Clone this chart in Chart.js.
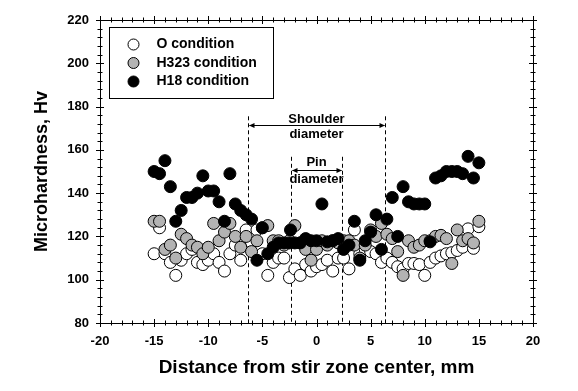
<!DOCTYPE html>
<html><head><meta charset="utf-8">
<script src="https://cdn.jsdelivr.net/npm/chart.js@4.4.1/dist/chart.umd.min.js"></script>
<style>html,body{margin:0;padding:0;background:#fff}canvas{display:block}</style>
</head><body>
<canvas id="c" width="578" height="391"></canvas>
<script>
// ---- data ----
const positions = [-15,-14.5,-14,-13.5,-13,-12.5,-12,-11.5,-11,-10.5,-10,-9.5,-9,-8.5,-8,-7.5,-7,-6.5,-6,-5.5,-5,-4.5,-4,-3.5,-3,-2.5,-2,-1.5,-1,-0.5,0,0.5,1,1.5,2,2.5,3,3.5,4,4.5,5,5.5,6,6.5,7,7.5,8,8.5,9,9.5,10,10.5,11,11.5,12,12.5,13,13.5,14,14.5,15];
const oCondition = [112,124,112,108,102,109,112,114,108,107,109,112,108,104,112,116,109,123,117,123,112,102,108,110,110,101,105,102,107,104,106,107,109,104,110,110,105,123,112,114,113,112,108,110,108,106,105,107.5,107.5,107,102,108,110,111,112,112.5,113.5,115,123.5,114.5,124.5];
const h323Condition = [127,127,114,116,110,121,119,116,115,112,115,126,118,122,126,120,115,120,113,118,124,125,118,118,116,118,125,117,114,109,114,118,116,118,117,118,118,116,110,116,123,120,126,121,119,113,102,118,115,116,118,118,120,120.5,119,107.5,123,118,119,117,127];
const h18Positions = [-15,-14.5,-14,-13.5,-13,-12.5,-12,-11.5,-11,-10.5,-10,-9.5,-9,-8.5,-8,-7.5,-7,-6.5,-6,-5.5,-5,-4.5,-4,-3.5,-3,-2.5,-2.4,-2,-1.5,-1,-0.5,0,0.5,1,1.5,2,2.5,3,3.5,4,4.5,5,5.5,6,6.5,7,7.5,8,8.5,9,9.5,10,10.5,11,11.5,12,12.5,13,13.5,14,14.5,15];
const h18Condition = [150,149,155,143,127,132,138,138,140,148,141,141,136,127,149,135,132,130,128,109,124,112,115,117,117,117,123,117,117,119,118,118,135,117.5,118,119,114,116,127,109,118,122,130,114,128,138,120,143,136,135,135,135,117.5,147,148,150,150,150,149,157,147,154];
const seriesLabels = ['O condition','H323 condition','H18 condition'];
const seriesFill = ['#ffffff','#b3b3b3','#000000'];
const xRange = [-20, 20], xStep = 5, xMinorStep = 1;
const yRange = [80, 220], yStep = 20, yMinorStep = 4;
const shoulderEdges = [-6.35, 6.35];
const pinEdges = [-2.4, 2.4];
const shoulderLevels = {top:175.5, arrow:171.5, text1:174.2, text2:167.0};
const pinLevels = {top:156.8, arrow:150.8, text1:154.0, text2:146.4};

const toPts = (xs, ys) => xs.map((v,i)=>({x:v, y:ys[i]}));
const FONT = "'Liberation Sans', Arial, sans-serif";

const deco = {
  id:'deco',
  beforeDatasetsDraw(chart){
    const {ctx, chartArea:a, scales:{x,y}} = chart;
    ctx.save();
    ctx.strokeStyle='#000'; ctx.fillStyle='#000'; ctx.lineWidth=1;
    const dashed = (edges, topV) => {
      ctx.setLineDash([4,3]);
      for (const e of edges){
        const px = Math.round(x.getPixelForValue(e))+0.5;
        ctx.beginPath(); ctx.moveTo(px, y.getPixelForValue(topV)); ctx.lineTo(px, a.bottom); ctx.stroke();
      }
      ctx.setLineDash([]);
    };
    const arrow = (edges, v) => {
      const x1 = Math.round(x.getPixelForValue(edges[0]))+0.5, x2 = Math.round(x.getPixelForValue(edges[1]))+0.5;
      const py = Math.round(y.getPixelForValue(v))+0.5;
      ctx.beginPath(); ctx.moveTo(x1+1,py); ctx.lineTo(x2-1,py); ctx.stroke();
      ctx.beginPath(); ctx.moveTo(x1+0.5,py); ctx.lineTo(x1+6,py-2.5); ctx.lineTo(x1+6,py+2.5); ctx.closePath(); ctx.fill();
      ctx.beginPath(); ctx.moveTo(x2-0.5,py); ctx.lineTo(x2-6,py-2.5); ctx.lineTo(x2-6,py+2.5); ctx.closePath(); ctx.fill();
    };
    dashed(shoulderEdges, shoulderLevels.top);
    dashed(pinEdges, pinLevels.top);
    arrow(shoulderEdges, shoulderLevels.arrow);
    arrow(pinEdges, pinLevels.arrow);
    ctx.font = "bold 13px "+FONT; ctx.textAlign='center'; ctx.textBaseline='middle';
    const sc = x.getPixelForValue((shoulderEdges[0]+shoulderEdges[1])/2);
    const pc = x.getPixelForValue((pinEdges[0]+pinEdges[1])/2);
    ctx.fillText('Shoulder', sc, y.getPixelForValue(shoulderLevels.text1));
    ctx.fillText('diameter', sc, y.getPixelForValue(shoulderLevels.text2));
    ctx.fillText('Pin', pc, y.getPixelForValue(pinLevels.text1));
    ctx.fillText('diameter', pc, y.getPixelForValue(pinLevels.text2));
    ctx.restore();
  },
  afterDatasetsDraw(chart){
    const {ctx, chartArea:a, scales:{x,y}} = chart;
    ctx.save();
    ctx.strokeStyle='#000'; ctx.lineWidth=1;
    // frame
    ctx.strokeRect(Math.round(a.left)+0.5, Math.round(a.top)+0.5, Math.round(a.right-a.left), Math.round(a.bottom-a.top));
    ctx.beginPath();
    for (let v=xRange[0]; v<=xRange[1]; v+=xMinorStep){
      const px = Math.round(x.getPixelForValue(v))+0.5;
      const L = (v % xStep === 0) ? 4 : 2.5;
      ctx.moveTo(px, a.bottom-L); ctx.lineTo(px, a.bottom+L);
      ctx.moveTo(px, a.top-L); ctx.lineTo(px, a.top+L);
    }
    for (let v=yRange[0]; v<=yRange[1]; v+=yMinorStep){
      const py = Math.round(y.getPixelForValue(v))+0.5;
      const L = ((v-yRange[0]) % yStep === 0) ? 4 : 2.5;
      ctx.moveTo(a.left-L, py); ctx.lineTo(a.left+L, py);
      ctx.moveTo(a.right-L, py); ctx.lineTo(a.right+L, py);
    }
    ctx.stroke();
    // legend
    const lx = Math.round(a.left)+9.5, ly = Math.round(a.top)+7.5;
    ctx.fillStyle='#fff';
    ctx.fillRect(lx, ly, 164, 71);
    ctx.strokeRect(lx, ly, 164, 71);
    ctx.font = "bold 14px "+FONT; ctx.textAlign='left'; ctx.textBaseline='middle';
    chart.data.datasets.forEach((ds, i) => {
      const cy = ly + 17 + i*18.5;
      ctx.beginPath(); ctx.arc(lx+24, cy, 5.5, 0, Math.PI*2);
      ctx.fillStyle = ds.backgroundColor; ctx.fill(); ctx.stroke();
      ctx.fillStyle='#000';
      ctx.fillText(ds.label, lx+47, cy);
    });
    ctx.restore();
  }
};

new Chart(document.getElementById('c'), {
  type:'scatter',
  data:{ datasets:[
    {label:seriesLabels[0], data:toPts(positions,oCondition), backgroundColor:seriesFill[0], borderColor:'#000', borderWidth:1, pointRadius:6, order:3},
    {label:seriesLabels[1], data:toPts(positions,h323Condition), backgroundColor:seriesFill[1], borderColor:'#000', borderWidth:1, pointRadius:6, order:2},
    {label:seriesLabels[2], data:toPts(h18Positions,h18Condition), backgroundColor:seriesFill[2], borderColor:'#000', borderWidth:1, pointRadius:6, order:1}
  ]},
  options:{
    responsive:false, animation:false, devicePixelRatio:1,
    layout:{padding:{top:20,right:45,left:0,bottom:0}},
    plugins:{legend:{display:false}, tooltip:{enabled:false}},
    scales:{
      x:{type:'linear', min:xRange[0], max:xRange[1],
        ticks:{stepSize:xStep, color:'#000', padding:11, font:{family:FONT, size:13, weight:'bold'}},
        grid:{display:false, drawTicks:false}, border:{display:false},
        title:{display:true, text:'Distance from stir zone center, mm', color:'#000', font:{family:FONT, size:19, weight:'bold'}, padding:{top:0,bottom:12}},
        afterFit(s){ s.height = 68; }
      },
      y:{type:'linear', min:yRange[0], max:yRange[1],
        ticks:{stepSize:yStep, color:'#000', padding:11, font:{family:FONT, size:13, weight:'bold'}},
        grid:{display:false, drawTicks:false}, border:{display:false},
        title:{display:true, text:'Microhardness, Hv', color:'#000', font:{family:FONT, size:18, weight:'bold'}, padding:{top:31,bottom:0}},
        afterFit(s){ s.width = 100; }
      }
    }
  },
  plugins:[deco]
});
</script>
</body></html>
